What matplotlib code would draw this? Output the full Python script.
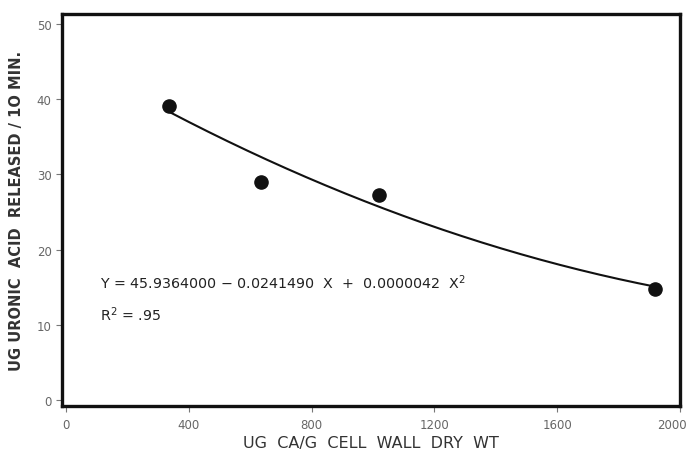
import numpy as np
import matplotlib
matplotlib.use("Agg")
import matplotlib.pyplot as plt
from matplotlib.transforms import ScaledTranslation

x_vals = [336, 635, 1020, 1919]
y_vals = [39.1, 29.0, 27.3, 14.7]
coef = [45.9364000, -0.0241490, 0.0000042]
x_ticks = [0, 400, 800, 1200, 1600, 2000]
y_ticks = [0, 10, 20, 30, 40, 50]

fig = plt.figure(figsize=(6.9, 4.6), dpi=100)
ax = fig.add_axes([0.0899, 0.1152, 0.8957, 0.8522])

xf = np.linspace(min(x_vals), max(x_vals), 200)
yf = coef[0] + coef[1] * xf + coef[2] * xf ** 2
ax.plot(xf, yf, color="#111111", lw=1.5)
ax.scatter(x_vals, y_vals, s=90, color="#111111", zorder=3)

ax.set_xlim(-13, 2000)
ax.set_ylim(-0.8, 51.3)
ax.set_xticks(x_ticks)
ax.set_yticks(y_ticks)
ax.tick_params(direction="out", length=4, width=0.8, color="#777777",
               labelcolor="#666666", labelsize=8.5)
ax.tick_params(axis="x", pad=4.5)
lbls = ax.get_xticklabels()
lbls[-1].set_transform(lbls[-1].get_transform() + ScaledTranslation(-6 / 72, 0, fig.dpi_scale_trans))
for s in ax.spines.values():
    s.set_linewidth(2.4)
    s.set_color("#111111")

ax.set_xlabel("UG  CA/G  CELL  WALL  DRY  WT", fontsize=11.5, color="#333333", labelpad=3)
ax.set_ylabel("UG URONIC  ACID  RELEASED / 1O MIN.", fontsize=10.5, color="#333333",
              fontweight="bold", labelpad=9)

ax.text(0.061, 0.316, r"Y = 45.9364000 $-$ 0.0241490  X  +  0.0000042  X$^2$",
        transform=ax.transAxes, fontsize=10.3, color="#222222", va="center")
ax.text(0.061, 0.235, r"R$^2$ = .95", transform=ax.transAxes, fontsize=10.3,
        color="#222222", va="center")

fig.savefig("out.png", dpi=100)
